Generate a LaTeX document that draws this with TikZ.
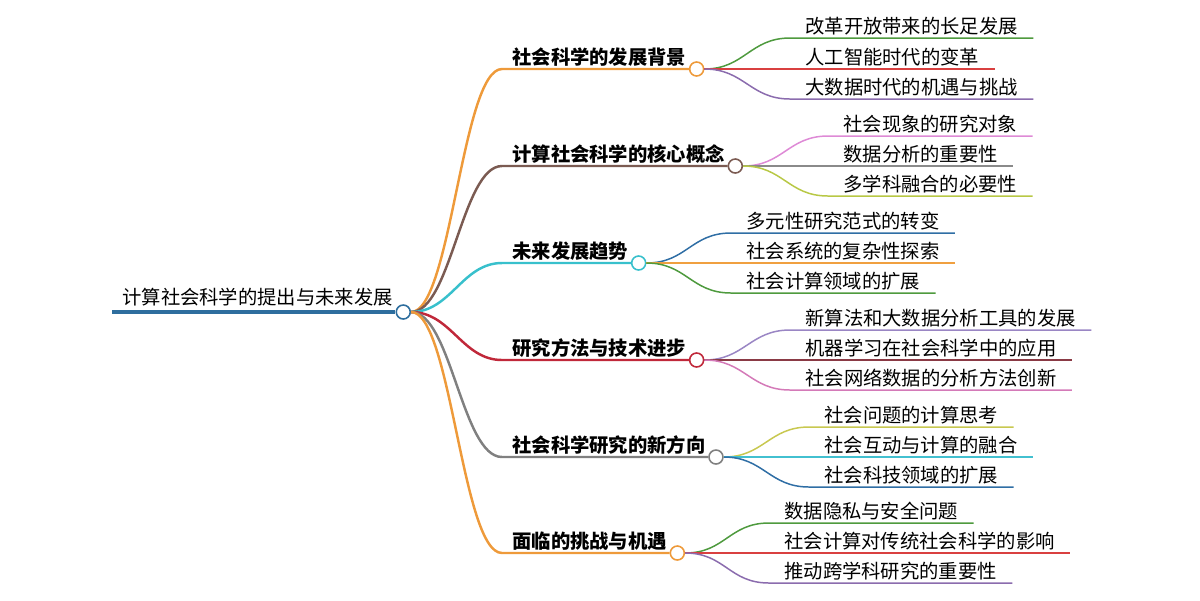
\documentclass[tikz,border=0pt]{standalone}
\usepackage{fontspec}
\setmainfont{Noto Sans CJK SC}
\usepackage{tikz}
\usetikzlibrary{positioning}
\definecolor{rootblue}{HTML}{2E6E9E}
\definecolor{branchorange}{HTML}{EE9A3A}
\definecolor{branchbrown}{HTML}{7B5B52}
\definecolor{branchcyan}{HTML}{38C0CC}
\definecolor{branchred}{HTML}{C0283A}
\definecolor{branchgrey}{HTML}{808080}
\definecolor{leafgreen}{HTML}{4E9A3E}
\definecolor{leafred}{HTML}{D94040}
\definecolor{leafpurple}{HTML}{8B6CAE}
\definecolor{leafpink}{HTML}{DE8AD6}
\definecolor{leafgrey}{HTML}{8A8A8A}
\definecolor{leafolive}{HTML}{B8C845}
\definecolor{leafblue}{HTML}{2F6EA5}
\definecolor{leaforange}{HTML}{F0A040}
\definecolor{leaflavender}{HTML}{9A86C4}
\definecolor{leafmaroon}{HTML}{8A3A45}
\definecolor{leafmagenta}{HTML}{D47AB8}
\definecolor{leafyellow}{HTML}{C8C850}
\definecolor{leafteal}{HTML}{42C0D0}
\tikzset{knot/.style={circle, draw=#1, fill=white, line width=0.9pt, minimum size=0.28cm, inner sep=0pt}}
\tikzset{rootbox/.style={anchor=south west, inner xsep=0.2cm, inner ysep=0.14cm, text depth=0pt, font=\fontsize{11}{13}\selectfont}}
\tikzset{branchbox/.style={anchor=south west, inner xsep=0.2cm, inner ysep=0.08cm, text depth=0pt, font=\fontsize{11}{13}\selectfont\bfseries}}
\tikzset{leafbox/.style={anchor=south west, inner xsep=0.3cm, inner ysep=0.08cm, text depth=0pt, font=\fontsize{11}{13}\selectfont}}
\tikzset{mainline/.style={line width=1.4pt, draw=#1}}
\tikzset{leafline/.style={line width=0.85pt, draw=#1}}

\begin{document}
\begin{tikzpicture}[x=0.02cm, y=-0.02cm]
        \useasboundingbox (0,0) rectangle (1200,600);
        % root
        \node [rootbox](root) at (112,312) {计算社会科学的提出与未来发展};
        \node [knot=rootblue](kroot) at (root.south east){};
        \draw [line width=2.3pt, rootblue] (root.south west) -- (kroot);

        % branches
        \node [branchbox](b1) at (502,69) {社会科学的发展背景};
        \node [knot=branchorange](k1) at (b1.south east){};
        \node [branchbox](b2) at (502,166) {计算社会科学的核心概念};
        \node [knot=branchbrown](k2) at (b2.south east){};
        \node [branchbox](b3) at (502,263) {未来发展趋势};
        \node [knot=branchcyan](k3) at (b3.south east){};
        \node [branchbox](b4) at (502,360) {研究方法与技术进步};
        \node [knot=branchred](k4) at (b4.south east){};
        \node [branchbox](b5) at (502,457) {社会科学研究的新方向};
        \node [knot=branchgrey](k5) at (b5.south east){};
        \node [branchbox](b6) at (502,553) {面临的挑战与机遇};
        \node [knot=branchorange](k6) at (b6.south east){};

        \draw [mainline=branchorange] (kroot.east) .. controls +(40,0) and +(-40,0) .. (b1.south west) -- (k1);
        \draw [mainline=branchbrown] (kroot.east) .. controls +(40,0) and +(-40,0) .. (b2.south west) -- (k2);
        \draw [mainline=branchcyan] (kroot.east) .. controls +(40,0) and +(-40,0) .. (b3.south west) -- (k3);
        \draw [mainline=branchred] (kroot.east) .. controls +(40,0) and +(-40,0) .. (b4.south west) -- (k4);
        \draw [mainline=branchgrey] (kroot.east) .. controls +(40,0) and +(-40,0) .. (b5.south west) -- (k5);
        \draw [mainline=branchorange] (kroot.east) .. controls +(40,0) and +(-40,0) .. (b6.south west) -- (k6);

        % leaves of branch 1
        \node [leafbox](c11) at (790,38) {改革开放带来的长足发展};
        \node [leafbox](c12) at (790,69) {人工智能时代的变革};
        \node [leafbox](c13) at (790,99) {大数据时代的机遇与挑战};
        \draw [leafline=leafgreen] (k1.east) .. controls +(40,0) and +(-40,0) .. (c11.south west) -- (c11.south east);
        \draw [leafline=leafred] (k1.east) -- (c12.south west) -- (c12.south east);
        \draw [leafline=leafpurple] (k1.east) .. controls +(40,0) and +(-40,0) .. (c13.south west) -- (c13.south east);

        % leaves of branch 2
        \node [leafbox](c21) at (828,136) {社会现象的研究对象};
        \node [leafbox](c22) at (828,166) {数据分析的重要性};
        \node [leafbox](c23) at (828,196) {多学科融合的必要性};
        \draw [leafline=leafpink] (k2.east) .. controls +(40,0) and +(-40,0) .. (c21.south west) -- (c21.south east);
        \draw [leafline=leafgrey] (k2.east) -- (c22.south west) -- (c22.south east);
        \draw [leafline=leafolive] (k2.east) .. controls +(40,0) and +(-40,0) .. (c23.south west) -- (c23.south east);

        % leaves of branch 3
        \node [leafbox](c31) at (731,233) {多元性研究范式的转变};
        \node [leafbox](c32) at (731,263) {社会系统的复杂性探索};
        \node [leafbox](c33) at (731,293) {社会计算领域的扩展};
        \draw [leafline=leafblue] (k3.east) .. controls +(40,0) and +(-40,0) .. (c31.south west) -- (c31.south east);
        \draw [leafline=leaforange] (k3.east) -- (c32.south west) -- (c32.south east);
        \draw [leafline=leafgreen] (k3.east) .. controls +(40,0) and +(-40,0) .. (c33.south west) -- (c33.south east);

        % leaves of branch 4
        \node [leafbox](c41) at (790,330) {新算法和大数据分析工具的发展};
        \node [leafbox](c42) at (790,360) {机器学习在社会科学中的应用};
        \node [leafbox](c43) at (790,390) {社会网络数据的分析方法创新};
        \draw [leafline=leaflavender] (k4.east) .. controls +(40,0) and +(-40,0) .. (c41.south west) -- (c41.south east);
        \draw [leafline=leafmaroon] (k4.east) -- (c42.south west) -- (c42.south east);
        \draw [leafline=leafmagenta] (k4.east) .. controls +(40,0) and +(-40,0) .. (c43.south west) -- (c43.south east);

        % leaves of branch 5
        \node [leafbox](c51) at (809,427) {社会问题的计算思考};
        \node [leafbox](c52) at (809,457) {社会互动与计算的融合};
        \node [leafbox](c53) at (809,487) {社会科技领域的扩展};
        \draw [leafline=leafyellow] (k5.east) .. controls +(40,0) and +(-40,0) .. (c51.south west) -- (c51.south east);
        \draw [leafline=leafteal] (k5.east) -- (c52.south west) -- (c52.south east);
        \draw [leafline=leafblue] (k5.east) .. controls +(40,0) and +(-40,0) .. (c53.south west) -- (c53.south east);

        % leaves of branch 6
        \node [leafbox](c61) at (769,523) {数据隐私与安全问题};
        \node [leafbox](c62) at (769,553) {社会计算对传统社会科学的影响};
        \node [leafbox](c63) at (769,583) {推动跨学科研究的重要性};
        \draw [leafline=leafgreen] (k6.east) .. controls +(40,0) and +(-40,0) .. (c61.south west) -- (c61.south east);
        \draw [leafline=leafred] (k6.east) -- (c62.south west) -- (c62.south east);
        \draw [leafline=leafpurple] (k6.east) .. controls +(40,0) and +(-40,0) .. (c63.south west) -- (c63.south east);
\end{tikzpicture}
\end{document}
